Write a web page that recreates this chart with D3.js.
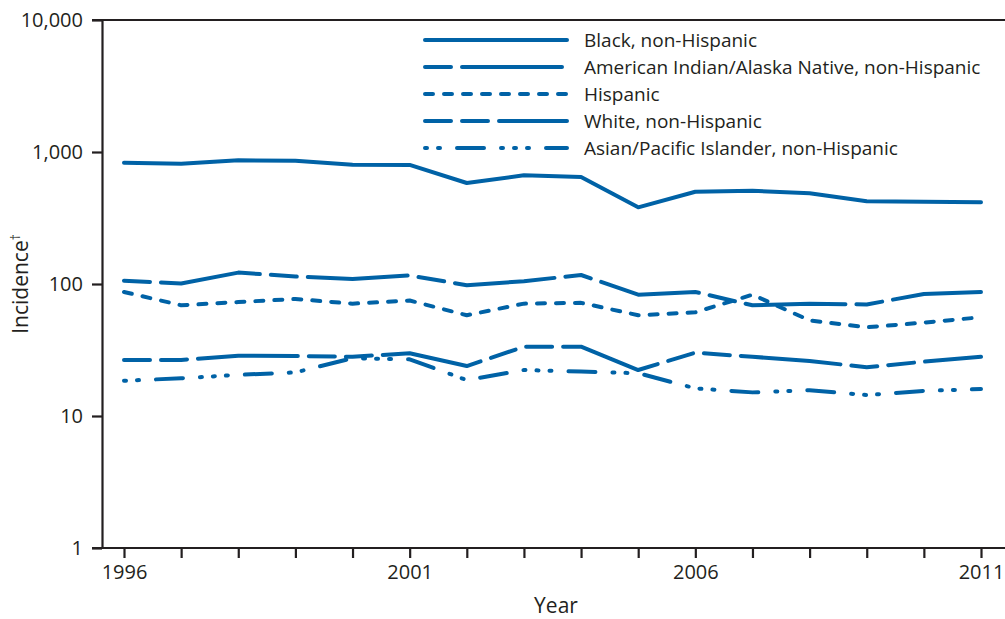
<!DOCTYPE html>
<html>
<head>
<meta charset="utf-8">
<script src="https://cdn.jsdelivr.net/npm/d3@7"></script>
<style>
    body { margin:0; background:#fff; }
    text { font-family:"Open Sans", sans-serif; fill:#231f20; }
</style>
</head>
<body>
<svg></svg>
<script>
//years on the x axis
var years = [1996,1997,1998,1999,2000,2001,2002,2003,2004,2005,2006,2007,2008,2009,2010,2011];

//incidence per series (log scale)
var blackValues    = [830,815,865,859,801,798,582,666,647,381,500,509,487,423,420,416];
var aianValues     = [106,101,122,114,109,116,98,105,117,83,87,69,71,70,84,87];
var hispanicValues = [87,69,73,77,71,75,58,71,72,58,61,83,53,47,51,56];
var whiteValues    = [26.6,26.6,28.6,28.5,28.1,29.9,23.9,33.5,33.5,22.3,30.2,28.1,26.1,23.4,25.8,28.1];
var asianValues    = [18.5,19.3,20.5,21.4,27.4,26.9,18.7,22.3,21.7,21.1,16.2,15.1,15.7,14.4,15.5,16.0];

var seriesNames = ["Black, non-Hispanic",
                   "American Indian/Alaska Native, non-Hispanic",
                   "Hispanic",
                   "White, non-Hispanic",
                   "Asian/Pacific Islander, non-Hispanic"];

var yTickValues = [1,10,100,1000,10000];
var xLabelYears = [1996,2001,2006,2011];

//dash patterns, same order as seriesNames
var dashPatterns = ["none",
                    "26,11,100,11",
                    "8,11",
                    "26,11,26,11,100,11",
                    "2,11,2,17,27,17,2,11,2,11,2,17,27,17"];

var lineColor = "#0062a6";
var inkColor = "#231f20";

var makeTranslateString = function(x,y)
{
    return "translate("+x+","+y+")";
}

//draws the x and y axes plus the top frame line
var drawAxes = function(graph,margins,target,xScale,yScale)
{
    var yAxis = d3.axisLeft(yScale)
        .tickValues(yTickValues)
        .tickSize(10)
        .tickSizeOuter(0)
        .tickPadding(9)
        .tickFormat(d3.format(","));

    var yG = target.append("g").call(yAxis);
    yG.selectAll("text").style("font-size","20px");

    var xAxis = d3.axisBottom(xScale)
        .tickValues(years)
        .tickSize(10)
        .tickSizeOuter(0)
        .tickPadding(7)
        .tickFormat(function(d)
        {
            return xLabelYears.indexOf(d) >= 0 ? d : "";
        });

    var xG = target.append("g")
        .attr("transform",makeTranslateString(0,graph.height))
        .call(xAxis);
    xG.select(".domain").remove();
    xG.selectAll("text").style("font-size","20px");

    //bottom line and top line run past the plot on the right
    target.append("line")
        .attr("x1",-10).attr("x2",graph.width)
        .attr("y1",graph.height).attr("y2",graph.height);
    target.append("line")
        .attr("x1",-10).attr("x2",graph.width)
        .attr("y1",0).attr("y2",0);

    target.selectAll("line, path.domain")
        .attr("stroke",inkColor)
        .attr("stroke-width",2.2);
    target.selectAll(".tick text").attr("fill",inkColor);
}

var drawLines = function(seriesList,target,xScale,yScale)
{
    var line = d3.line()
        .x(function(d,i){ return xScale(years[i]); })
        .y(function(d){ return yScale(d); });

    target.selectAll(".series")
        .data(seriesList)
        .enter()
        .append("path")
        .attr("class","series")
        .attr("d",function(s){ return line(s.values); })
        .attr("fill","none")
        .attr("stroke",lineColor)
        .attr("stroke-width",4)
        .attr("stroke-linecap","round")
        .attr("stroke-linejoin","round")
        .attr("stroke-dasharray",function(s){ return s.dash; });
}

var drawLabels = function(graph,margins,svg)
{
    svg.append("text")
        .attr("x",margins.left+454)
        .attr("y",613)
        .attr("text-anchor","middle")
        .style("font-size","21px")
        .text("Year");

    var yLabel = svg.append("text")
        .attr("transform",makeTranslateString(28,margins.top+graph.height/2)+" rotate(-90)")
        .attr("text-anchor","middle")
        .style("font-size","21px");
    yLabel.append("tspan").text("Incidence");
    yLabel.append("tspan")
        .attr("dy",-8)
        .style("font-size","12px")
        .text("\u2020");
}

var drawLegend = function(seriesList,target)
{
    var rows = target.append("g")
        .attr("transform",makeTranslateString(323,20))
        .selectAll("g")
        .data(seriesList)
        .enter()
        .append("g")
        .attr("transform",function(s,i){ return makeTranslateString(0,i*27); });

    rows.append("line")
        .attr("x1",0).attr("x2",142)
        .attr("y1",0).attr("y2",0)
        .attr("stroke",lineColor)
        .attr("stroke-width",4)
        .attr("stroke-linecap","round")
        .attr("stroke-dasharray",function(s){ return s.dash; });

    rows.append("text")
        .attr("x",159)
        .attr("y",7)
        .style("font-size","19px")
        .text(function(s){ return s.name; });
}

var initGraph = function()
{
    var screen = {width:1005,height:619};
    var margins = {left:102,right:0,top:20,bottom:71};

    var graph =
        {
            width:screen.width-margins.left-margins.right,
            height:screen.height-margins.top-margins.bottom
        };

    var svg = d3.select("svg")
        .attr("width",screen.width)
        .attr("height",screen.height);

    var target = svg.append("g")
        .attr("id","graph")
        .attr("transform",makeTranslateString(margins.left,margins.top));

    var xScale = d3.scaleLinear()
        .domain([1996,2011])
        .range([22,879]);

    var yScale = d3.scaleLog()
        .domain([1,10000])
        .range([graph.height,0]);

    var valueLists = [blackValues,aianValues,hispanicValues,whiteValues,asianValues];
    var seriesList = seriesNames.map(function(name,i)
    {
        return {name:name,values:valueLists[i],dash:dashPatterns[i]};
    });

    drawAxes(graph,margins,target,xScale,yScale);
    drawLines(seriesList,target,xScale,yScale);
    drawLabels(graph,margins,svg);
    drawLegend(seriesList,target);
}

initGraph();
</script>
</body>
</html>
